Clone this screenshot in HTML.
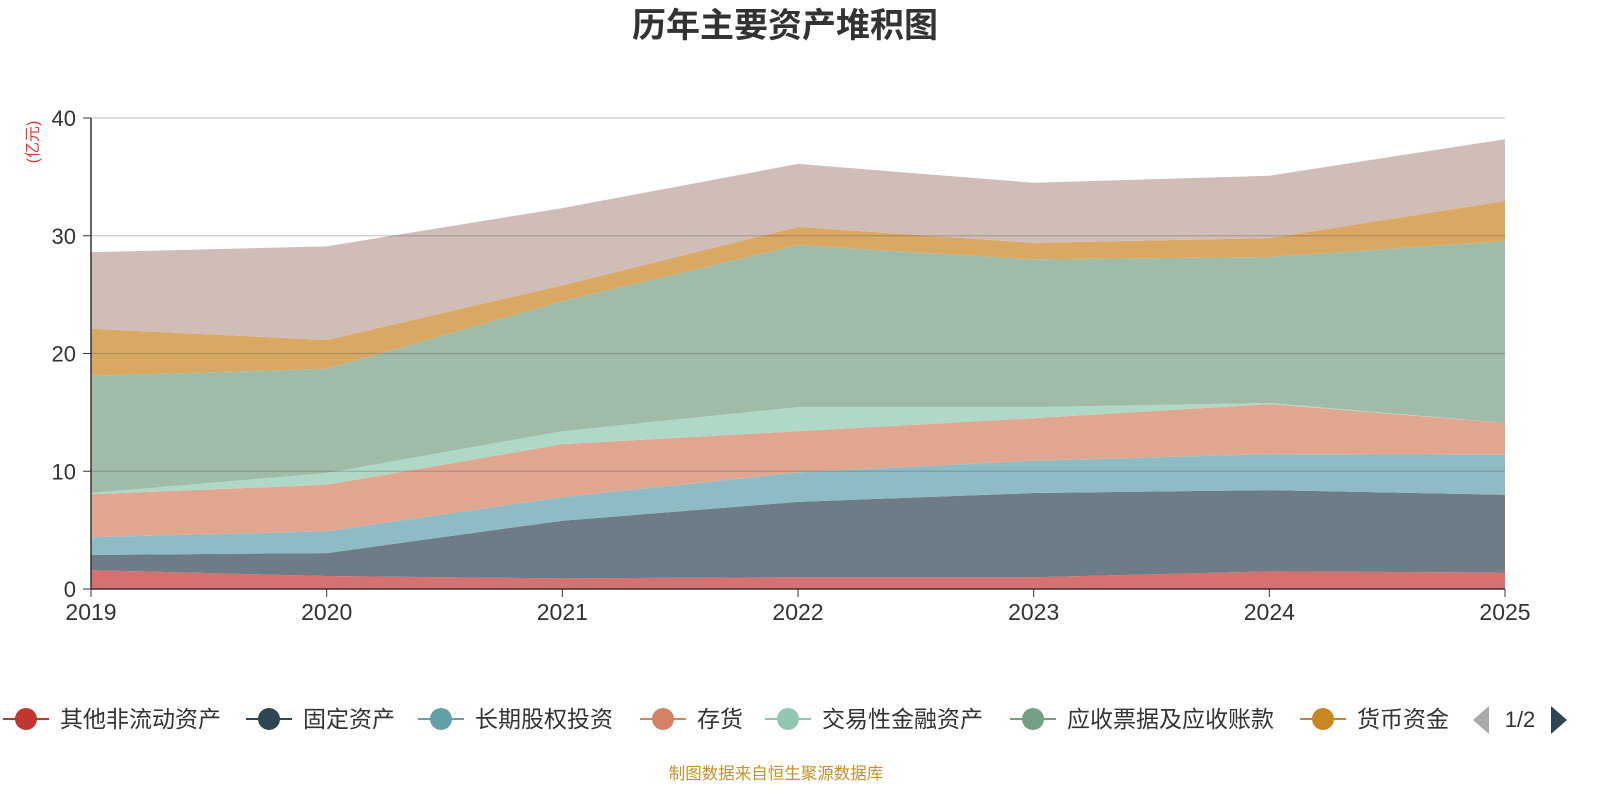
<!DOCTYPE html>
<html><head><meta charset="utf-8"><style>
body{margin:0;background:#fff;font-family:"Liberation Sans","Noto Sans CJK SC",sans-serif;}
svg text{font-family:"Liberation Sans","Noto Sans CJK SC",sans-serif;}
</style></head><body>
<svg id="chart" width="1600" height="800">
<text x="785" y="37" text-anchor="middle" font-size="34" font-weight="bold" fill="#333">历年主要资产堆积图</text>
<text x="38" y="142" font-size="16" fill="#e33" transform="rotate(-90 38 142)" text-anchor="middle">(亿元)</text>
<g id="areas"></g><g id="grid"></g><g id="axes"></g><g id="legend"></g>
<text x="776" y="779" text-anchor="middle" font-size="16.5" fill="#c8902a">制图数据来自恒生聚源数据库</text>
</svg>
<script>
const years=["2019","2020","2021","2022","2023","2024","2025"];
const yTicks=[0,10,20,30,40];
const seriesNames=["其他非流动资产","固定资产","长期股权投资","存货","交易性金融资产","应收票据及应收账款","货币资金","其他"];
const s1=[1.6,1.1,0.9,1.0,1.0,1.5,1.4];
const s2=[1.3,1.95,4.9,6.4,7.15,6.9,6.6];
const s3=[1.5,1.85,2.0,2.5,2.75,3.05,3.4];
const s4=[3.65,3.95,4.5,3.5,3.6,4.25,2.7];
const s5=[0.1,1.0,1.1,2.05,0.95,0.1,0.0];
const s6=[9.95,8.85,11.05,13.75,12.55,12.4,15.45];
const s7=[4.0,2.45,1.35,1.55,1.4,1.6,3.4];
const s8=[6.5,7.95,6.55,5.35,5.1,5.3,5.25];
const series=[s1,s2,s3,s4,s5,s6,s7,s8];
const fills=["#d57170","#6e7c88","#8fbcc4","#e0a690","#b0d8c6","#a0bba8","#d9a862","#d1bdb7"];
const markers=["#c23531","#2f4554","#61a0a8","#d48265","#91c7ae","#749f83","#ca8622"];
const NS="http://www.w3.org/2000/svg";
const x=i=>91+i*(1505-91)/(years.length-1);
const y=v=>589-v*(589-118)/40;
function mk(tag,attrs,parent){const e=document.createElementNS(NS,tag);for(const k in attrs)e.setAttribute(k,attrs[k]);parent.appendChild(e);return e;}
const areas=document.getElementById('areas');
let base=years.map(()=>0);
series.forEach((s,k)=>{
  const top=base.map((b,i)=>b+s[i]);
  let d=top.map((v,i)=>(i?'L':'M')+x(i)+','+y(v)).join('');
  for(let i=years.length-1;i>=0;i--)d+='L'+x(i)+','+y(base[i]);
  const p=mk('path',{d:d+'Z',fill:fills[k]},areas);
  
  
  base=top;
});
const grid=document.getElementById('grid'),axes=document.getElementById('axes');
yTicks.forEach(t=>{
  if(t>0){const l=mk('line',{x1:91,x2:1505,y1:y(t),y2:y(t),stroke:t==40?'#ccc':'rgba(80,80,80,0.3)','stroke-width':1.3},grid);
  }
  mk('line',{x1:83,x2:91,y1:y(t),y2:y(t),stroke:'#333'},axes);
  const tx=mk('text',{x:76,y:y(t)+8,'text-anchor':'end','font-size':22,fill:'#333'},axes);
  tx.textContent=t;
  
});
mk('line',{x1:91,x2:91,y1:118,y2:589,stroke:'#333','stroke-width':1.5},axes);
mk('line',{x1:91,x2:1505,y1:589,y2:589,stroke:'#333','stroke-width':1.5},axes);
years.forEach((yr,i)=>{
  mk('line',{x1:x(i),x2:x(i),y1:589,y2:597,stroke:'#333'},axes);
  const tx=mk('text',{x:x(i),y:620,'text-anchor':'middle','font-size':23,fill:'#333'},axes);
  tx.textContent=yr;
  
});
const lg=document.getElementById('legend');
const lx=[3,246,418,640,765,1010,1300];
markers.forEach((c,k)=>{
  const g=mk('g',{},lg);
  
  
  mk('line',{x1:lx[k],x2:lx[k]+46,y1:719,y2:719,stroke:c,'stroke-width':2},g);
  mk('circle',{cx:lx[k]+23,cy:719,r:11,fill:c},g);
  const t=mk('text',{x:lx[k]+57,y:727,'font-size':23,fill:'#333'},g);
  t.textContent=seriesNames[k];
});
const pl=mk('path',{d:'M1489,706L1489,734L1473,720Z',fill:'#aaa'},lg);

const pt=mk('text',{x:1520,y:727,'text-anchor':'middle','font-size':22,fill:'#333'},lg);pt.textContent='1/2';

const pr=mk('path',{d:'M1551,706L1551,734L1567,720Z',fill:'#2f4554'},lg);

</script>
</body></html>
